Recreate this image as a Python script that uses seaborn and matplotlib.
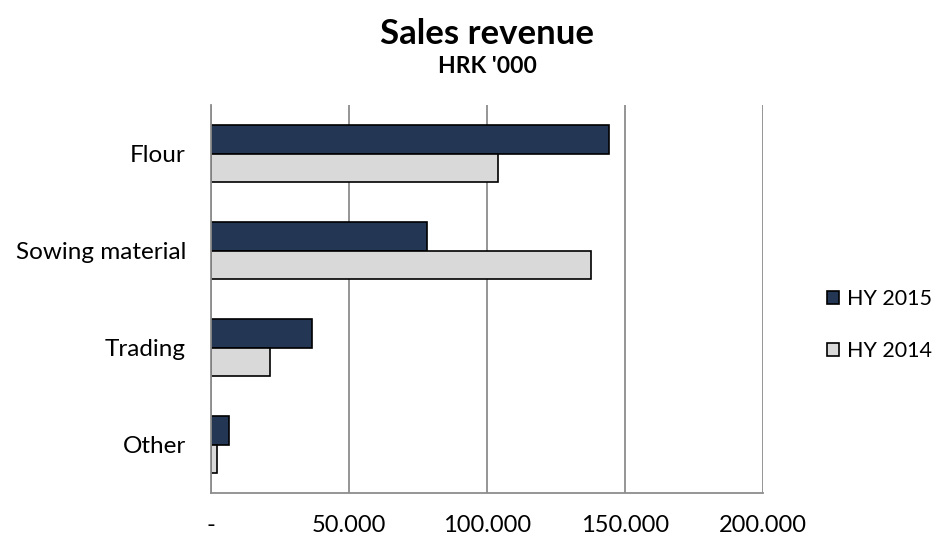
import matplotlib
matplotlib.use("Agg")
import matplotlib.pyplot as plt
import seaborn as sns
import pandas as pd

categories = ["Flour", "Sowing material", "Trading", "Other"]
hy2015 = [144200, 78100, 36700, 6400]
hy2014 = [104100, 137600, 21300, 2300]
series = ["HY 2015", "HY 2014"]
xticks = [0, 50000, 100000, 150000, 200000]
xticklabels = ["-", "50.000", "100.000", "150.000", "200.000"]

sns.set_theme(style="white")
plt.rcParams["font.family"] = ["Lato", "DejaVu Sans"]

df = pd.DataFrame({
    "category": categories * 2,
    "value": hy2015 + hy2014,
    "series": [series[0]] * 4 + [series[1]] * 4,
})

fig = plt.figure(figsize=(9.41, 5.39), dpi=100)
ax = fig.add_axes([0.2242, 0.0853, 0.8109 - 0.2242, 0.805 - 0.0853])

sns.barplot(data=df, y="category", x="value", hue="series", orient="h",
            palette=["#1B365D", "#D9D9D9"], edgecolor="black", linewidth=1.2,
            width=0.58, ax=ax, legend=True)

ax.set_xlim(0, 200000)
ax.set_xticks(xticks)
ax.set_xticklabels(xticklabels, fontsize=17)
ax.tick_params(axis="x", length=0, pad=16)
ax.tick_params(axis="y", length=0, pad=18, labelsize=17.5)
for t in ax.get_yticklabels():
    t.set_color("black")
for t in ax.get_xticklabels():
    t.set_color("black")
ax.set_xlabel("")
ax.set_ylabel("")
ax.xaxis.grid(True, color="#8C8C8C", linewidth=1.3)
ax.set_axisbelow(True)
for s in ["top", "right"]:
    ax.spines[s].set_visible(False)
ax.spines["left"].set_color("#8C8C8C")
ax.spines["left"].set_linewidth(1.3)
ax.spines["bottom"].set_color("#8C8C8C")
ax.spines["bottom"].set_linewidth(1.3)

leg = ax.legend(loc="center left", bbox_to_anchor=(0.879, 0.397),
                bbox_transform=fig.transFigure, frameon=False, fontsize=15.5,
                handlelength=0.55, handleheight=0.55, handletextpad=0.35,
                labelspacing=1.5, borderaxespad=0, borderpad=0)
for t in leg.get_texts():
    t.set_color("black")

fig.text(0.5175, 0.937, "Sales revenue", ha="center", va="center",
         fontsize=25, fontweight="bold", color="black")
fig.text(0.5175, 0.876, "HRK '000", ha="center", va="center",
         fontsize=16.5, fontweight="bold", color="black")

fig.savefig("out.png", dpi=100)
